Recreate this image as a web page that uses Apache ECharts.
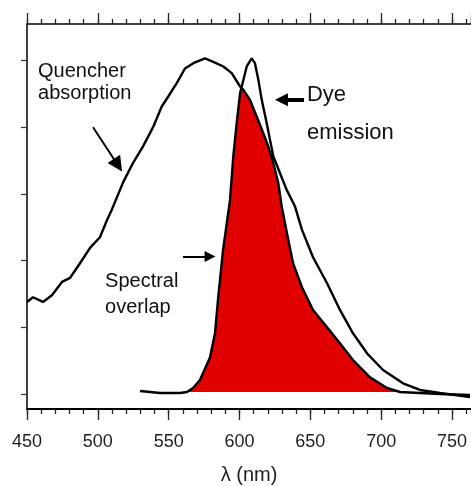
<!DOCTYPE html>
<html>
<head>
<meta charset="utf-8">
<script src="https://cdn.jsdelivr.net/npm/echarts@6/dist/echarts.min.js"></script>
<style>
html,body{margin:0;padding:0;background:#fff;}
#chart{width:471px;height:486px;}
</style>
</head>
<body>
<div id="chart"></div>
<script>
// x tick labels (nm)
var xTickLabels = [450, 500, 550, 600, 650, 700, 750];
var yTickValues = [0, 1, 2, 3, 4, 5];

// Quencher absorption [wavelength nm, relative intensity]
var quencherAbsorption = [
  [450,1.38],[454.2,1.45],[461.3,1.38],[467.6,1.48],[474.7,1.68],[480.4,1.74],
  [487.4,1.96],[494.5,2.19],[501.5,2.35],[506.5,2.61],[509.8,2.76],[518.0,3.18],
  [525.0,3.47],[532.1,3.72],[539.2,4.01],[545.1,4.31],[549.7,4.46],[555.7,4.66],
  [561.5,4.88],[567.4,4.96],[575.6,5.03],[581.5,4.98],[588.6,4.91],[594.5,4.81],
  [600.4,4.61],[602.7,4.56],[607.4,4.41],[612.1,4.16],[616.8,3.91],[620.3,3.71],
  [623.9,3.46],[627.4,3.16],[629.8,2.81],[633.5,2.41],[637.8,1.96],[644.1,1.60],
  [651.9,1.26],[661.8,1.00],[670.9,0.76],[680.1,0.51],[692.1,0.25],[704.1,0.09],
  [713.3,0.03],[727.4,0.015],[741.5,0.0],[762.7,-0.015]
];

// Dye emission [wavelength nm, relative intensity]
var dyeEmission = [
  [529.8,0.045],[543.9,0.015],[558.0,0.015],[562.9,0.03],[567.2,0.09],[572.1,0.21],
  [579.2,0.55],[582.7,0.91],[584.8,1.41],[588.4,2.16],[593.3,2.91],[595.6,3.56],
  [598.0,4.06],[600.4,4.51],[601.6,4.61],[605.1,4.91],[608.6,5.03],[610.9,4.96],
  [613.3,4.71],[615.7,4.41],[619.2,4.06],[621.5,3.81],[623.9,3.56],[628.6,3.31],
  [633.3,3.06],[639.2,2.81],[644.1,2.46],[651.9,2.05],[661.8,1.66],[670.9,1.26],
  [680.1,0.91],[690.0,0.61],[701.3,0.36],[715.4,0.16],[727.4,0.06],[741.5,0.015],
  [762.7,-0.045]
];

// Spectral overlap (red region boundary)
var spectralOverlap = [
  [562.9,0.03],[567.2,0.09],[572.1,0.21],[579.2,0.55],[582.7,0.91],[584.8,1.41],
  [588.4,2.16],[593.3,2.91],[595.6,3.56],[598.0,4.06],[600.4,4.51],[602.7,4.56],
  [607.4,4.41],[612.1,4.16],[616.8,3.91],[620.3,3.71],[623.9,3.46],[627.4,3.16],
  [629.8,2.81],[633.5,2.41],[637.8,1.96],[644.1,1.60],[651.9,1.26],[661.8,1.00],
  [670.9,0.76],[680.1,0.51],[692.1,0.25],[704.1,0.09],[713.3,0.03]
];

var FONT = '"Liberation Sans", Arial, sans-serif';
var X_MIN = 450, X_MAX = 763.4, Y_MIN = -0.225, Y_MAX = 5.547;

var chart = echarts.init(document.getElementById('chart'), null, {renderer: 'canvas'});

function xAxisDef(pos, interval, len, showLine, showLabel, lineW) {
  return {
    type: 'value', position: pos, min: X_MIN, max: X_MAX, interval: interval,
    axisLine: {show: showLine, onZero: false, lineStyle: {color: '#000', width: lineW}},
    axisTick: {show: true, length: len, inside: false, lineStyle: {color: '#222', width: 1.3}},
    axisLabel: {show: showLabel, margin: 24, showMaxLabel: false, color: '#1e1e1e',
      fontFamily: FONT, fontSize: 18},
    splitLine: {show: false}
  };
}

var xb = xAxisDef('bottom', 50, 11, true, true, 2);
xb.name = 'λ (nm)';
xb.nameLocation = 'middle';
xb.nameGap = 56;
xb.nameTextStyle = {fontFamily: FONT, fontSize: 20, color: '#1e1e1e'};

var option = {
  animation: false,
  backgroundColor: '#fff',
  grid: {left: 27, right: 0, top: 24, bottom: 77, containLabel: false, outerBoundsMode: 'none'},
  xAxis: [
    xb,
    xAxisDef('bottom', 10, 5, false, false, 0),
    xAxisDef('top', 50, 11, true, false, 1.5),
    xAxisDef('top', 10, 5, false, false, 0)
  ],
  yAxis: {
    type: 'value', min: Y_MIN, max: Y_MAX,
    axisLine: {show: true, onZero: false, lineStyle: {color: '#000', width: 1.5}},
    axisTick: {show: true, length: 6, customValues: yTickValues, lineStyle: {color: '#333', width: 1.2}},
    axisLabel: {show: false},
    splitLine: {show: false}
  },
  series: [
    {
      name: 'Spectral overlap', type: 'line', data: spectralOverlap,
      showSymbol: false, symbol: 'none', smooth: false, z: 1,
      lineStyle: {width: 0, color: '#e00000'},
      areaStyle: {color: '#e00000', opacity: 1, origin: 0.03}
    },
    {
      name: 'Quencher absorption', type: 'line', data: quencherAbsorption,
      showSymbol: false, symbol: 'none', smooth: false, z: 3,
      lineStyle: {width: 2.4, color: '#000'}
    },
    {
      name: 'Dye emission', type: 'line', data: dyeEmission,
      showSymbol: false, symbol: 'none', smooth: false, z: 3,
      lineStyle: {width: 2.4, color: '#000'},
      markLine: {
        silent: true, symbol: ['none', 'triangle'], label: {show: false},
        lineStyle: {color: '#000', type: 'solid'},
        emphasis: {disabled: true},
        data: [
          [{coord: [496.6, 4.00], lineStyle: {width: 2}, symbolSize: 15}, {coord: [514.2, 3.43], symbolSize: 15}],
          [{coord: [645.5, 4.41], lineStyle: {width: 4}, symbolSize: 13}, {coord: [629.6, 4.41], symbolSize: 13}],
          [{coord: [560.1, 2.06], lineStyle: {width: 2}, symbolSize: 11}, {coord: [579.2, 2.06], symbolSize: 11}]
        ]
      }
    }
  ]
};
chart.setOption(option);

// Annotation texts anchored in data coordinates (left edge, vertical middle)
var notes = [
  {text: 'Quencher', at: [457.8, 4.84], size: 20},
  {text: 'absorption', at: [457.8, 4.50], size: 20},
  {text: 'Dye', at: [647.6, 4.49], size: 22},
  {text: 'emission', at: [647.6, 3.92], size: 22},
  {text: 'Spectral', at: [505.1, 1.68], size: 20},
  {text: 'overlap', at: [505.1, 1.30], size: 20}
];
var graphics = notes.map(function (n) {
  var p = chart.convertToPixel({xAxisIndex: 0, yAxisIndex: 0}, n.at);
  return {
    type: 'text', x: p[0], y: p[1], z: 10,
    style: {text: n.text, fill: '#111', font: n.size + 'px ' + FONT,
      textAlign: 'left', textVerticalAlign: 'middle', verticalAlign: 'middle'}
  };
});
chart.setOption({graphic: graphics});
</script>
</body>
</html>
